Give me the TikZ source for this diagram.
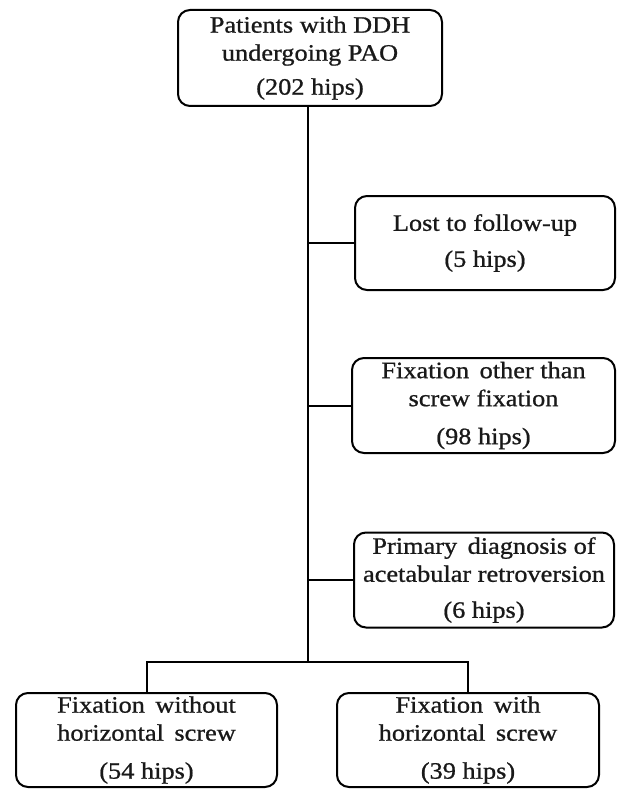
\documentclass[tikz,border=0pt]{standalone}
\usepackage{fontspec}
\setmainfont{Liberation Serif}[FakeStretch=1.12,FakeBold=0.9]
\begin{document}
\begin{tikzpicture}[x=1pt,y=-1pt,
  box/.style={draw, line width=2pt, rounded corners=12pt, align=center,
    inner sep=0pt, font=\fontsize{23.5}{28}\selectfont, text=black!90},
  link/.style={line width=2pt}]
\useasboundingbox (0,0) rectangle (619,789);
\node[box, minimum width=264pt, minimum height=96pt] (top) at (310,58)
  {Patients with DDH\\undergoing PAO\\[6pt](202 hips)};
\node[box, minimum width=260pt, minimum height=94pt] (lost) at (485,243)
  {Lost to follow-up\\[8pt](5 hips)};
\node[box, minimum width=263pt, minimum height=95pt] (other) at (483.5,405.5)
  {Fixation\, other than\\screw fixation\\[10pt](98 hips)};
\node[box, minimum width=260pt, minimum height=95pt] (retro) at (484,580)
  {Primary\, diagnosis of\\acetabular retroversion\\[8pt](6 hips)};
\node[box, minimum width=261pt, minimum height=94pt] (without) at (146.5,740)
  {Fixation\, without\\horizontal\, screw\\[10pt](54 hips)};
\node[box, minimum width=262pt, minimum height=94pt] (with) at (468,740)
  {Fixation\, with\\horizontal\, screw\\[10pt](39 hips)};
\coordinate (j) at (308,662);
\draw[link] (top.south -| j) -- (j);
\draw[link] (lost.west -| j) -- (lost.west);
\draw[link] (other.west -| j) -- (other.west);
\draw[link] (retro.west -| j) -- (retro.west);
\draw[link] (without.north) |- (j) -| (with.north);
\end{tikzpicture}
\end{document}
